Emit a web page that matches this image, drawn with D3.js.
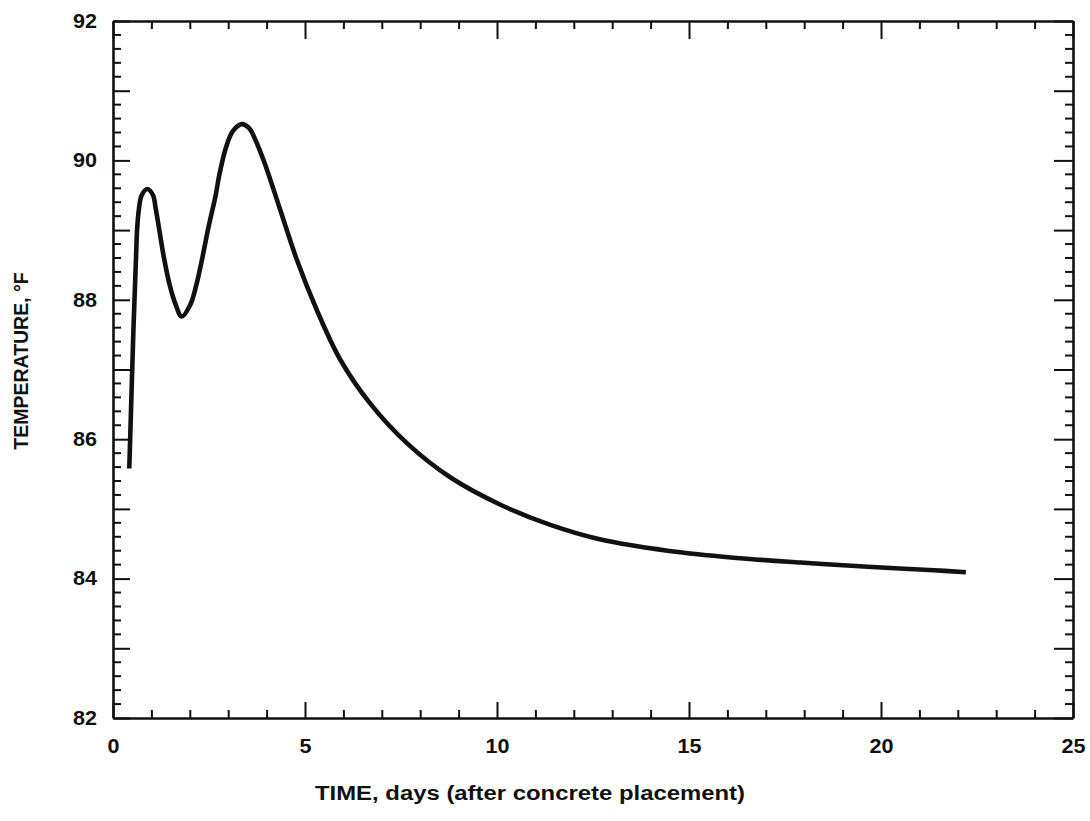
<!DOCTYPE html>
<html>
<head>
<meta charset="utf-8">
<script src="https://cdn.jsdelivr.net/npm/d3@7"></script>
<style>
  html, body { margin: 0; padding: 0; background: #fff; }
  svg { display: block; }
  text { font-family: "Liberation Sans", Arial, Helvetica, sans-serif; font-weight: bold; fill: #111; }
</style>
</head>
<body>
<svg id="chart" width="1090" height="821"></svg>
<script>
// ---- data ----
const days  = [0.424,0.477,0.529,0.552,0.599,0.630,0.677,0.747,0.893,1.042,1.112,1.198,1.328,1.477,1.633,1.789,2.013,2.169,2.326,2.482,2.674,2.768,2.95,3.12,3.35,3.55,3.72,3.95,4.35,4.79,5.31,5.92,6.70,7.66,8.79,10.09,11.39,12.70,14.44,16.16,17.91,19.66,21.38,22.21];
const temps = [85.58,86.56,87.52,87.88,88.60,89.03,89.31,89.50,89.59,89.50,89.31,89.03,88.60,88.21,87.93,87.76,87.93,88.21,88.60,89.03,89.50,89.79,90.2,90.42,90.52,90.46,90.28,89.96,89.30,88.57,87.85,87.14,86.51,85.94,85.45,85.06,84.77,84.56,84.40,84.30,84.23,84.17,84.12,84.09];
const xTickLabels = [0,5,10,15,20,25];
const yTickLabels = [82,84,86,88,90,92];
const xTitle = "TIME, days (after concrete placement)";
const yTitle = "TEMPERATURE, \u00B0F";

// ---- layout ----
const svg = d3.select("#chart");
const L = 113, R = 1073, T = 21, B = 718;
const x = d3.scaleLinear().domain([0, 25]).range([L, R]);
const y = d3.scaleLinear().domain([82, 92]).range([B, T]);

svg.append("rect").attr("width", 1090).attr("height", 821).attr("fill", "#fff");

function styleAxis(g, keepDomain) {
  g.selectAll(".tick line").attr("stroke", "#111").attr("stroke-width", 2);
  if (!keepDomain) g.select(".domain").remove();
  else g.select(".domain").attr("stroke", "#111").attr("stroke-width", 2.6);
}

const xMinor = d3.range(0, 26, 1).filter(d => d % 5 !== 0);
const yMinor = d3.range(0, 51).filter(i => i % 5 !== 0).map(i => 82 + i / 5);
const yInt = d3.range(82, 93, 1);

// minor ticks on left/right (every 0.2 °F)
const minorY = svg.append("g").attr("class", "minor-y");
minorY.selectAll("line.l").data(yMinor).join("line").attr("class", "l")
  .attr("x1", L).attr("x2", L + 8).attr("y1", d => y(d)).attr("y2", d => y(d))
  .attr("stroke", "#111").attr("stroke-width", 2);
minorY.selectAll("line.r").data(yMinor).join("line").attr("class", "r")
  .attr("x1", R).attr("x2", R - 8).attr("y1", d => y(d)).attr("y2", d => y(d))
  .attr("stroke", "#111").attr("stroke-width", 2);

// bottom axis
svg.append("g").attr("transform", `translate(0,${B})`)
  .call(d3.axisBottom(x).tickValues(xMinor).tickSize(-8).tickFormat(""))
  .call(g => styleAxis(g, false));
const gxb = svg.append("g").attr("transform", `translate(0,${B})`)
  .call(d3.axisBottom(x).tickValues(xTickLabels).tickSize(-16).tickSizeOuter(0).tickPadding(21).tickFormat(d3.format("d")))
  .call(g => styleAxis(g, true));
gxb.selectAll(".tick text").attr("font-size", 19.5).attr("fill", "#111")
  .attr("textLength", d => String(d).length * 12).attr("lengthAdjust", "spacingAndGlyphs");

// top axis
svg.append("g").attr("transform", `translate(0,${T})`)
  .call(d3.axisTop(x).tickValues(xMinor).tickSize(-8).tickFormat(""))
  .call(g => styleAxis(g, false));
svg.append("g").attr("transform", `translate(0,${T})`)
  .call(d3.axisTop(x).tickValues(xTickLabels).tickSize(-18).tickSizeOuter(0).tickFormat(""))
  .call(g => styleAxis(g, true));

// left axis
const gyl = svg.append("g").attr("transform", `translate(${L},0)`)
  .call(d3.axisLeft(y).tickValues(yInt).tickSize(-17).tickSizeOuter(0).tickPadding(16)
    .tickFormat(d => yTickLabels.includes(d) ? String(d) : ""))
  .call(g => styleAxis(g, true));
gyl.selectAll(".tick text").attr("font-size", 19.5).attr("fill", "#111")
  .filter(function() { return this.textContent !== ""; })
  .attr("textLength", d => String(d).length * 12).attr("lengthAdjust", "spacingAndGlyphs");

// right axis
svg.append("g").attr("transform", `translate(${R},0)`)
  .call(d3.axisRight(y).tickValues(yInt).tickSize(-19).tickSizeOuter(0).tickFormat(""))
  .call(g => styleAxis(g, true));

// curve
const pts = days.map((d, i) => [d, temps[i]]);
const line = d3.line().x(d => x(d[0])).y(d => y(d[1])).curve(d3.curveCatmullRom.alpha(0.5));
svg.append("path").datum(pts)
  .attr("d", line)
  .attr("fill", "none")
  .attr("stroke", "#111")
  .attr("stroke-width", 4.6)
  .attr("stroke-linejoin", "round")
  .attr("stroke-linecap", "butt");

// titles
svg.append("text")
  .attr("x", 530).attr("y", 800)
  .attr("text-anchor", "middle")
  .attr("font-size", 19.5)
  .attr("textLength", 430).attr("lengthAdjust", "spacingAndGlyphs")
  .text(xTitle);

svg.append("text")
  .attr("transform", "translate(28,361) rotate(-90)")
  .attr("text-anchor", "middle")
  .attr("font-size", 19.5)
  .text(yTitle);
</script>
</body>
</html>
